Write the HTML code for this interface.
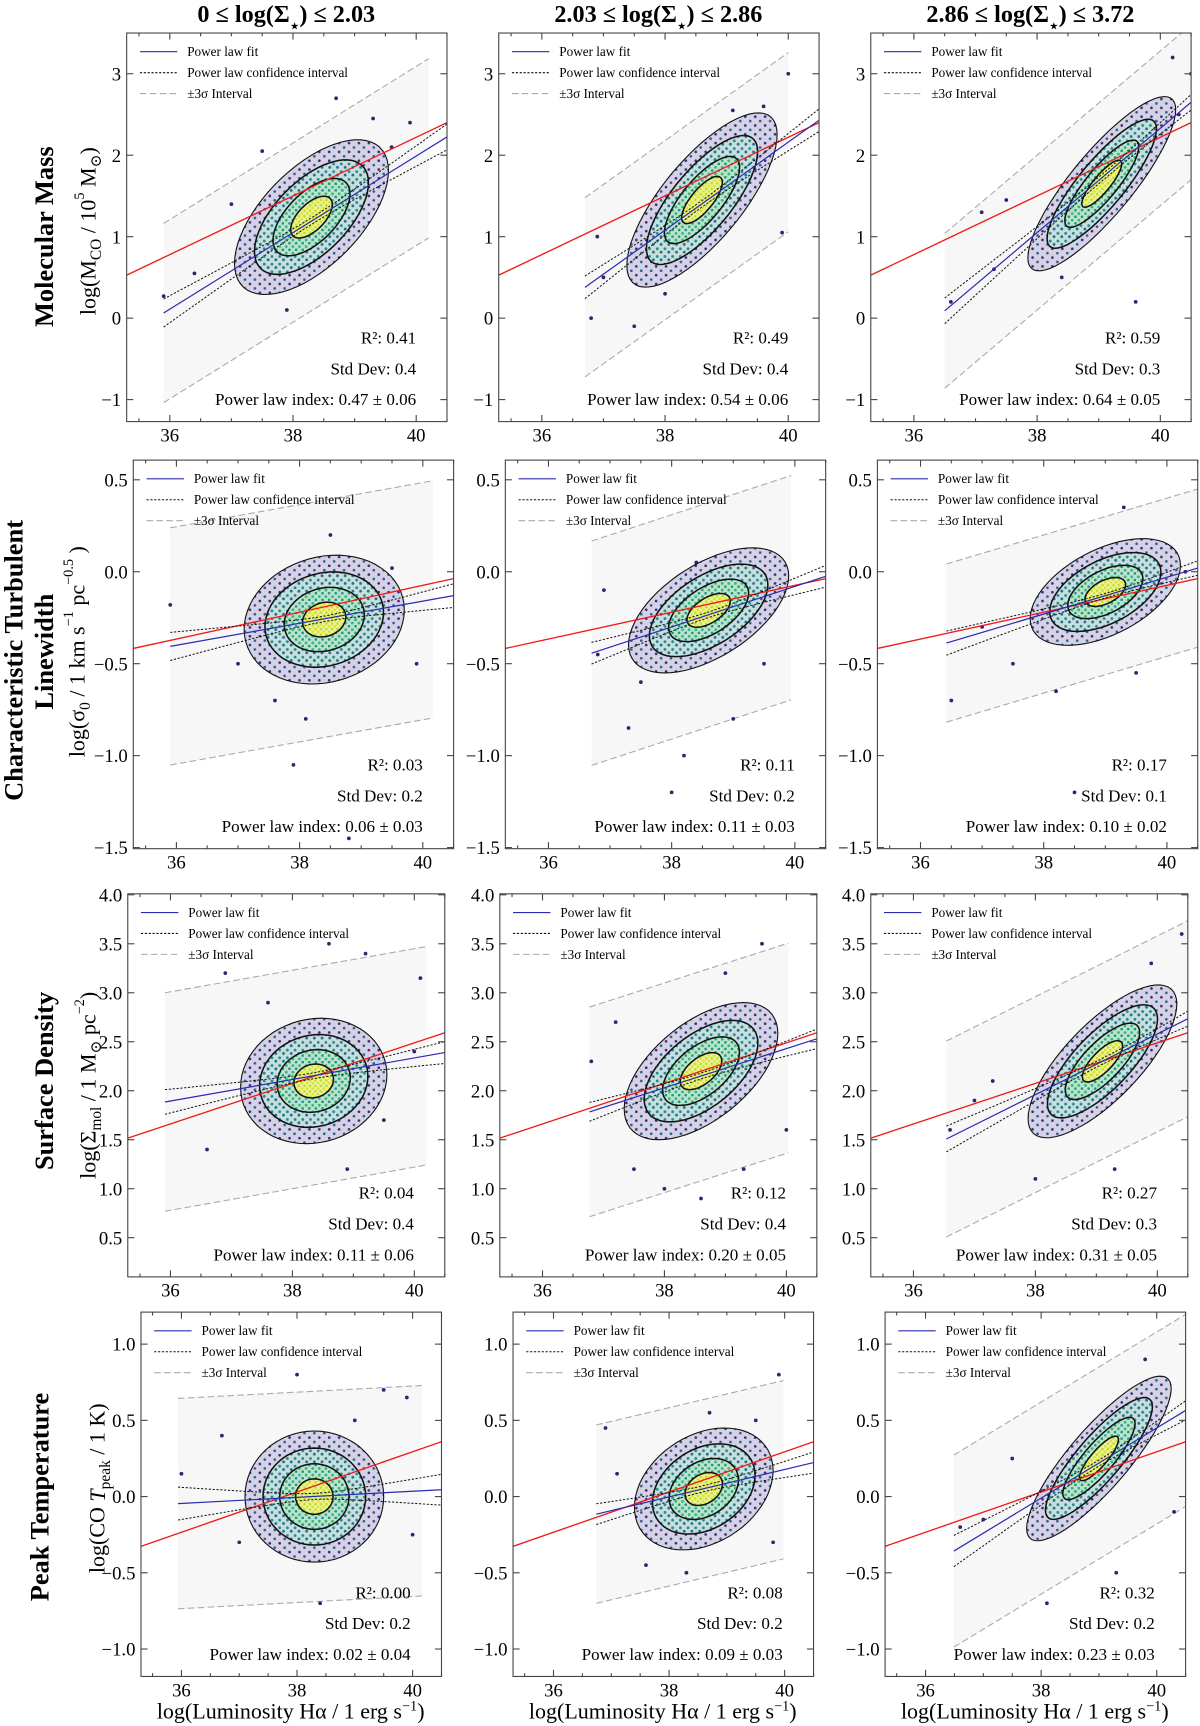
<!DOCTYPE html>
<html><head><meta charset="utf-8">
<style>
html,body{margin:0;padding:0;background:#fff;}
svg{display:block;font-family:"Liberation Serif","DejaVu Serif",serif;}
</style></head>
<body>
<svg id="fig" width="1200" height="1726" viewBox="0 0 1090 1568" xmlns="http://www.w3.org/2000/svg">
<defs>
<pattern id="p1" width="9" height="8" patternUnits="userSpaceOnUse"><rect width="9" height="8" fill="#d6d2e5"/><circle cx="2" cy="2" r="1.2" fill="#3b2a7a"/><circle cx="6.5" cy="6" r="1.2" fill="#2f5e8e"/></pattern>
<pattern id="p2" width="7" height="7" patternUnits="userSpaceOnUse"><rect width="7" height="7" fill="#c6e0de"/><circle cx="2" cy="2" r="1.3" fill="#2a8a8a"/><circle cx="5.5" cy="5" r="1.3" fill="#31688e"/></pattern>
<pattern id="p3" width="6" height="6" patternUnits="userSpaceOnUse"><rect width="6" height="6" fill="#bce4cc"/><circle cx="2" cy="2" r="1.3" fill="#35b779"/><circle cx="5" cy="5" r="1.3" fill="#21918c"/></pattern>
<pattern id="p4" width="5" height="5" patternUnits="userSpaceOnUse"><rect width="5" height="5" fill="#eaf19a"/><circle cx="1.5" cy="1.5" r="1.2" fill="#bddf26"/><circle cx="4" cy="4" r="1.2" fill="#dde318"/></pattern>
</defs>
<g id="panels"></g>
<g id="labels" font-size="22">
<text x="260" y="20" text-anchor="middle" font-weight="bold">0 ≤ log(Σ<tspan font-size="14" baseline-shift="sub">⋆</tspan>) ≤ 2.03</text>
<text x="598" y="20" text-anchor="middle" font-weight="bold">2.03 ≤ log(Σ<tspan font-size="14" baseline-shift="sub">⋆</tspan>) ≤ 2.86</text>
<text x="936" y="20" text-anchor="middle" font-weight="bold">2.86 ≤ log(Σ<tspan font-size="14" baseline-shift="sub">⋆</tspan>) ≤ 3.72</text>

<text transform="translate(40,215) rotate(-90)" text-anchor="middle" dominant-baseline="central" font-size="24" font-weight="bold">Molecular Mass</text>
<text transform="translate(80,210) rotate(-90)" text-anchor="middle" dominant-baseline="central" font-size="20">log(M<tspan font-size="14" baseline-shift="sub">CO</tspan> / 10<tspan font-size="13" baseline-shift="super">5</tspan> M<tspan font-size="14" baseline-shift="sub">⊙</tspan>)</text>

<text transform="translate(12,600) rotate(-90)" text-anchor="middle" dominant-baseline="central" font-size="24" font-weight="bold">Characteristic Turbulent</text>
<text transform="translate(40,592) rotate(-90)" text-anchor="middle" dominant-baseline="central" font-size="24" font-weight="bold">Linewidth</text>
<text transform="translate(70,592) rotate(-90)" text-anchor="middle" dominant-baseline="central" font-size="20">log(σ<tspan font-size="14" baseline-shift="sub">0</tspan> / 1 km s<tspan font-size="13" baseline-shift="super">−1</tspan> pc<tspan font-size="13" baseline-shift="super">−0.5</tspan> )</text>

<text transform="translate(40,982) rotate(-90)" text-anchor="middle" dominant-baseline="central" font-size="24" font-weight="bold">Surface Density</text>
<text transform="translate(80,986) rotate(-90)" text-anchor="middle" dominant-baseline="central" font-size="20">log(Σ<tspan font-size="14" baseline-shift="sub">mol</tspan> / 1 M<tspan font-size="14" baseline-shift="sub">⊙</tspan> pc<tspan font-size="13" baseline-shift="super">−2</tspan>)</text>

<text transform="translate(36,1360) rotate(-90)" text-anchor="middle" dominant-baseline="central" font-size="24" font-weight="bold">Peak Temperature</text>
<text transform="translate(88,1352) rotate(-90)" text-anchor="middle" dominant-baseline="central" font-size="20">log(CO <tspan font-style="italic">T</tspan><tspan font-size="14" baseline-shift="sub">peak</tspan> / 1 K)</text>

<text x="264" y="1561" text-anchor="middle" font-size="20">log(Luminosity Hα / 1 erg s<tspan font-size="13" baseline-shift="super">−1</tspan>)</text>
<text x="602" y="1561" text-anchor="middle" font-size="20">log(Luminosity Hα / 1 erg s<tspan font-size="13" baseline-shift="super">−1</tspan>)</text>
<text x="940" y="1561" text-anchor="middle" font-size="20">log(Luminosity Hα / 1 erg s<tspan font-size="13" baseline-shift="super">−1</tspan>)</text>
</g>
</svg>
<script>
// ---- data (row-major: R1C1..R1C3, R2C1.., R3.., R4..) ----
const xTicks = [36, 38, 40];
const yTicksRow = [[-1,0,1,2,3],[-1.5,-1.0,-0.5,0.0,0.5],[0.5,1.0,1.5,2.0,2.5,3.0,3.5,4.0],[-1.0,-0.5,0.0,0.5,1.0]];
const yTickLabelsRow = [["−1","0","1","2","3"],["−1.5","−1.0","−0.5","0.0","0.5"],["0.5","1.0","1.5","2.0","2.5","3.0","3.5","4.0"],["−1.0","−0.5","0.0","0.5","1.0"]];
const xDomain = [35.3, 40.5];
const yDomainRow = [[-1.27,3.5],[-1.506,0.607],[0.1,4.01],[-1.18,1.21]];
const fitSlope = [0.47,0.54,0.64, 0.06,0.11,0.10, 0.11,0.20,0.31, 0.02,0.09,0.23];
const fitAt38 = [1.05,1.08,1.05, -0.28,-0.3,-0.23, 2.115,2.03,1.96, -0.005,-0.002,-0.01];
const bandXmin = [35.9,36.7,36.5, 35.9,36.7,36.42, 35.91,36.77,36.54, 35.94,36.74,36.49];
const bandXmax = [40.2,40.0,40.6, 40.17,39.94,40.6, 40.2,40.03,40.6, 40.16,39.98,40.6];
const bandHalf = [1.1,1.1,0.95, 0.645,0.61,0.43, 1.115,1.07,1.0, 0.69,0.585,0.63];
const redAt38 = [1.5,1.5,1.5, -0.22,-0.22,-0.22, 2.075,2.075,2.075, 0.03,0.03,0.03];
const redSlope = [0.36,0.36,0.36, 0.073,0.073,0.073, 0.207,0.207,0.207, 0.132,0.132,0.132];
const ciA = [0.04,0.04,0.04, 0.015,0.015,0.012, 0.03,0.03,0.03, 0.02,0.02,0.02];
const ciB = [0.07,0.07,0.06, 0.03,0.03,0.025, 0.05,0.05,0.05, 0.045,0.035,0.04];
const contCx = [38.3,38.6,39.05, 38.4,38.6,39.0, 38.35,38.6,39.1, 38.3,38.6,39.0];
const contCy = [1.24,1.45,1.65, -0.26,-0.21,-0.11, 2.1,2.2,2.3, 0.0,0.05,0.25];
const contSx = [1.25,1.22,1.2, 1.3,1.3,1.22, 1.2,1.26,1.22, 1.2,1.2,1.25];
const contSy = [0.95,1.07,1.07, 0.35,0.34,0.29, 0.64,0.7,0.78, 0.43,0.4,0.54];
const contRho = [0.6,0.75,0.85, 0.15,0.55,0.5, 0.1,0.55,0.75, 0.0,0.3,0.85];
const r2Text = ["0.41","0.49","0.59","0.03","0.11","0.17","0.04","0.12","0.27","0.00","0.08","0.32"];
const stdText = ["0.4","0.4","0.3","0.2","0.2","0.1","0.4","0.4","0.3","0.2","0.2","0.2"];
const idxText = ["0.47 ± 0.06","0.54 ± 0.06","0.64 ± 0.05","0.06 ± 0.03","0.11 ± 0.03","0.10 ± 0.02","0.11 ± 0.06","0.20 ± 0.05","0.31 ± 0.05","0.02 ± 0.04","0.09 ± 0.03","0.23 ± 0.03"];
const outliersX = [
 [37.0,37.3,37.5,38.7,39.3,39.6,36.4,35.9,37.9,39.9],
 [36.8,36.9,37.5,38.0,39.1,40.0,39.9,37.0,39.6],
 [36.6,37.1,37.5,40.5,40.2,38.4,39.6,37.3,40.3],
 [35.9,37.9,38.8,39.5,38.5,38.1,37.6,39.9,37.0],
 [36.9,37.5,38.0,38.2,39.0,39.5,37.3,36.8,38.4],
 [36.5,37.0,38.5,39.3,38.2,40.3,37.5,39.5],
 [36.9,38.6,39.2,40.1,38.9,38.3,36.6,37.6,39.5,40.0],
 [36.8,37.2,37.5,38.0,39.6,39.0,39.3,40.0,38.6],
 [36.6,37.3,37.0,40.4,39.9,38.0,39.3,40.3],
 [36.0,38.4,39.0,39.5,39.9,37.0,40.0,36.7,38.0],
 [36.9,37.1,37.6,38.7,39.9,39.8,38.3,39.5],
 [36.6,37.0,38.1,39.8,40.1,39.3,37.5,40.3]];
const outliersY = [
 [1.4,0.45,2.05,2.7,2.45,2.1,0.55,0.27,0.1,2.4],
 [0.0,1.0,-0.1,0.3,2.55,3.0,1.05,0.5,2.6],
 [0.2,1.3,1.45,3.0,3.2,0.5,0.2,0.6,2.5],
 [-0.18,-1.05,-1.45,0.02,0.2,-0.8,-0.7,-0.5,-0.5],
 [-0.1,-0.6,-1.2,-1.0,-0.8,-0.5,-0.85,-0.45,0.05],
 [-0.7,-0.3,-1.2,0.35,-0.65,0.0,-0.5,-0.55],
 [3.2,3.5,3.4,3.15,1.2,1.5,1.4,2.9,1.7,2.4],
 [2.3,2.7,1.2,1.0,3.5,3.2,1.2,1.6,0.9],
 [1.6,2.1,1.9,3.6,3.3,1.1,1.2,2.9],
 [0.15,-0.7,0.5,0.7,0.65,-0.3,-0.25,0.4,0.8],
 [0.45,0.15,-0.45,0.55,0.8,-0.3,-0.5,0.5],
 [-0.2,-0.15,-0.7,0.9,0.6,-0.5,0.25,-0.1]];
const boxTop = [30,418,812,1192];
const boxBottom = [383,771,1160,1523];
const boxLeft = [[115,453,791],[121,459,797],[116,454,791],[128,466,804]];
const boxWidth = [291,291,288,273];

const NS = "http://www.w3.org/2000/svg";
const root = document.getElementById("panels");
function mk(tag, attrs, parent) {
  const e = document.createElementNS(NS, tag);
  for (const k in attrs) e.setAttribute(k, attrs[k]);
  parent.appendChild(e);
  return e;
}
const levels = [1, 0.74, 0.5, 0.27];
const fills = ["url(#p1)","url(#p2)","url(#p3)","url(#p4)"];

for (let r = 0; r < 4; r++) {
  for (let c = 0; c < 3; c++) {
    const i = r * 3 + c;
    const x0 = boxLeft[r][c], x1 = x0 + boxWidth[r], y0 = boxTop[r], y1 = boxBottom[r];
    const [ylo, yhi] = yDomainRow[r];
    const sx = v => x0 + (v - xDomain[0]) / (xDomain[1] - xDomain[0]) * (x1 - x0);
    const sy = v => y1 - (v - ylo) / (yhi - ylo) * (y1 - y0);
    const fit = x => fitAt38[i] + fitSlope[i] * (x - 38);
    const g = mk("g", {}, root);
    
    
    const cid = "clip" + i;
    const cp = mk("clipPath", {id: cid}, g);
    mk("rect", {x: x0, y: y0, width: x1 - x0, height: y1 - y0}, cp);
    const inner = mk("g", {"clip-path": "url(#" + cid + ")"}, g);
    const bx0 = bandXmin[i], bx1 = bandXmax[i], h = bandHalf[i];
    const band = mk("polygon", {points: [[sx(bx0), sy(fit(bx0)+h)], [sx(bx1), sy(fit(bx1)+h)], [sx(bx1), sy(fit(bx1)-h)], [sx(bx0), sy(fit(bx0)-h)]].map(p => p.join(",")).join(" "), fill: "#f7f7f7"}, inner);
    
    
    [h, -h].forEach(d => {
      const l = mk("line", {x1: sx(bx0), y1: sy(fit(bx0)+d), x2: sx(bx1), y2: sy(fit(bx1)+d), stroke: "#aaa", "stroke-width": 1, "stroke-dasharray": "6,3"}, inner);
      
      
    });
    for (let k = 0; k < outliersX[i].length; k++) {
      const p = mk("circle", {cx: sx(outliersX[i][k]), cy: sy(outliersY[i][k]), r: 1.7, fill: "#3b1f6e"}, inner);
      
      
    }
    levels.forEach((s, li) => {
      const pts = [];
      const rho = contRho[i];
      for (let t = 0; t < 64; t++) {
        const a = t / 64 * 2 * Math.PI;
        const dx = contSx[i] * s * Math.cos(a);
        const dy = contSy[i] * s * (rho * Math.cos(a) + Math.sqrt(1 - rho * rho) * Math.sin(a));
        pts.push(sx(contCx[i] + dx).toFixed(1) + "," + sy(contCy[i] + dy).toFixed(1));
      }
      const poly = mk("polygon", {points: pts.join(" "), fill: fills[li], stroke: "#111", "stroke-width": li === 0 ? 1 : 1.4}, inner);
      
      
    });
    const red = x => redAt38[i] + redSlope[i] * (x - 38);
    const rl = mk("line", {x1: sx(xDomain[0]), y1: sy(red(xDomain[0])), x2: sx(xDomain[1]), y2: sy(red(xDomain[1])), stroke: "#f01818", "stroke-width": 1.2}, inner);
    
    
    const xm = contCx[i];
    [1, -1].forEach(sg => {
      const pts = [];
      for (let t = 0; t <= 40; t++) {
        const x = bx0 + (xDomain[1] - bx0) * t / 40;
        const w = Math.sqrt(ciA[i] * ciA[i] + ciB[i] * ciB[i] * (x - xm) * (x - xm));
        pts.push(sx(x).toFixed(1) + "," + sy(fit(x) + sg * w).toFixed(1));
      }
      const cl = mk("polyline", {points: pts.join(" "), fill: "none", stroke: "#111", "stroke-width": 0.9, "stroke-dasharray": "2,1.5"}, inner);
      
      
    });
    const fl = mk("line", {x1: sx(bx0), y1: sy(fit(bx0)), x2: sx(xDomain[1]), y2: sy(fit(xDomain[1])), stroke: "#2b2bb0", "stroke-width": 1.1}, inner);
    
    
    const fr = mk("rect", {x: x0, y: y0, width: x1 - x0, height: y1 - y0, fill: "none", stroke: "#444", "stroke-width": 1}, g);
    
    
    for (let v = 35.5; v <= 40.5; v += 0.5) {
      const len = (Math.abs(v - Math.round(v)) < 0.01 && Math.round(v) % 2 === 0) ? 6 : 3;
      mk("line", {x1: sx(v), y1: y1, x2: sx(v), y2: y1 - len, stroke: "#444"}, g);
      mk("line", {x1: sx(v), y1: y0, x2: sx(v), y2: y0 + len, stroke: "#444"}, g);
    }
    xTicks.forEach(v => {
      const t = mk("text", {x: sx(v), y: y1 + 18, "text-anchor": "middle", "font-size": 17}, g);
      t.textContent = v;
      
      
    });
    yTicksRow[r].forEach((v, k) => {
      mk("line", {x1: x0, y1: sy(v), x2: x0 + 6, y2: sy(v), stroke: "#444"}, g);
      mk("line", {x1: x1, y1: sy(v), x2: x1 - 6, y2: sy(v), stroke: "#444"}, g);
      const t = mk("text", {x: x0 - 5, y: sy(v) + 6, "text-anchor": "end", "font-size": 17}, g);
      t.textContent = yTickLabelsRow[r][k];
      
      
    });
    const lg = mk("g", {"font-size": 12}, g);
    
    
    const entries = [["Power law fit", "#2b2bb0", "none"], ["Power law confidence interval", "#111", "2,1.5"], ["±3σ Interval", "#aaa", "6,3"]];
    entries.forEach((e, k) => {
      const yy = y0 + 17 + k * 19;
      const ln = mk("line", {x1: x0 + 12, y1: yy, x2: x0 + 46, y2: yy, stroke: e[1], "stroke-width": 1, "stroke-dasharray": e[2]}, lg);
      
      
      const t = mk("text", {x: x0 + 55, y: yy + 4}, lg);
      t.textContent = e[0];
      
      
    });
    const st = [["R²: " + r2Text[i], 76], ["Std Dev: " + stdText[i], 48], ["Power law index: " + idxText[i], 20]];
    st.forEach(s => {
      const t = mk("text", {x: x1 - 28, y: y1 - s[1] + 5, "text-anchor": "end", "font-size": 15.5}, g);
      t.textContent = s[0];
      
      
    });
  }
}
</script>
</body></html>
